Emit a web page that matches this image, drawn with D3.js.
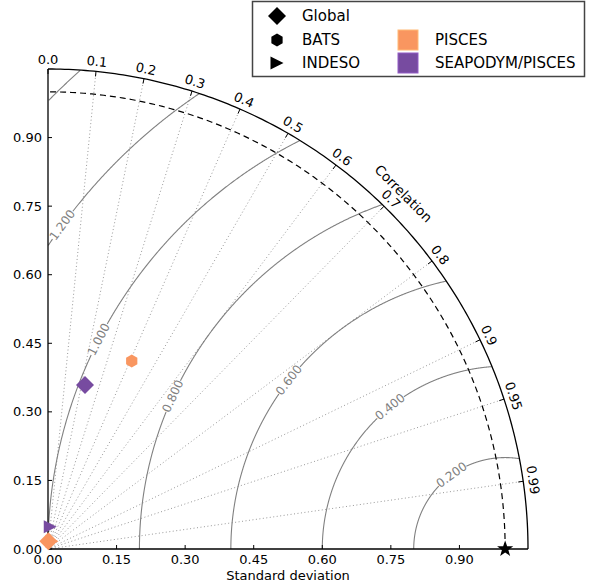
<!DOCTYPE html>
<html><head><meta charset="utf-8">
<script src="https://cdn.jsdelivr.net/npm/d3@7"></script>
<style>body{margin:0;background:#fff}svg{display:block}text{font-family:"DejaVu Sans",sans-serif}</style>
</head><body>
<svg id="c" width="597" height="588"></svg>
<script>
// ---- data ----
const stdTicks = [0, 0.15, 0.30, 0.45, 0.60, 0.75, 0.90];
const corrTicks = [0, 0.1, 0.2, 0.3, 0.4, 0.5, 0.6, 0.7, 0.8, 0.9, 0.95, 0.99];
const rmsLevels = [0.2, 0.4, 0.6, 0.8, 1.0, 1.2, 1.4];
const rmsLabels = ["0.200", "0.400", "0.600", "0.800", "1.000", "1.200", ""];
const regions = ["Global", "BATS", "INDESO"];
const models = ["PISCES", "SEAPODYM/PISCES"];
const piscesStd = [0.017, 0.450, 0.019];
const piscesCorr = [0.05, 0.407, 0.47];
const seapodymStd = [0.368, null, 0.049];
const seapodymCorr = [0.220, null, 0.10];
const refStd = 1.0;
const maxStd = 1.05;

// ---- layout ----
const svg = d3.select("#c");
const ox = 48, oy = 549, R = 480;
const s = d3.scaleLinear().domain([0, maxStd]).range([0, R]);
const px = x => ox + s(x), py = y => oy - s(y);
const colors = {"PISCES": "#f99660", "SEAPODYM/PISCES": "#774ba0"};

// dotted correlation lines
const g = svg.append("g");
corrTicks.filter(c => c > 0).forEach(c => {
  const t = Math.acos(c);
  g.append("line").attr("x1", px(0)).attr("y1", py(0))
    .attr("x2", px(maxStd * Math.cos(t))).attr("y2", py(maxStd * Math.sin(t)))
    .attr("stroke", "#999").attr("stroke-width", 1).attr("stroke-dasharray", "1,2.5");
});

// RMS contours around the reference point
const labelAngle = {0.2: 125.8, 0.4: 129, 0.6: 142, 0.8: 155.3, 1.0: 152.7, 1.2: 143.8};
const line = d3.line().x(d => px(d[0])).y(d => py(d[1]));
rmsLevels.forEach((r, i) => {
  const lab = rmsLabels[i];
  const la = labelAngle[r];
  const gapHalf = lab ? (17 / s(r)) * 180 / Math.PI : 0;
  let seg = [], segs = [];
  for (let a = 0; a <= 180; a += 0.1) {
    const x = refStd + r * Math.cos(a * Math.PI / 180), y = r * Math.sin(a * Math.PI / 180);
    const inside = x >= 0 && y >= 0 && x * x + y * y <= maxStd * maxStd;
    const inGap = lab && Math.abs(a - la) < gapHalf;
    if (inside && !inGap) seg.push([x, y]);
    else { if (seg.length > 1) segs.push(seg); seg = []; }
  }
  if (seg.length > 1) segs.push(seg);
  segs.forEach(sg => g.append("path").attr("d", line(sg)).attr("fill", "none")
    .attr("stroke", "#808080").attr("stroke-width", 1.1));
  if (lab) {
    const x = refStd + r * Math.cos(la * Math.PI / 180), y = r * Math.sin(la * Math.PI / 180);
    g.append("text").attr("transform", `translate(${px(x)},${py(y)}) rotate(${90 - la})`)
      .attr("text-anchor", "middle").attr("dominant-baseline", "central")
      .attr("font-size", 12).attr("fill", "#808080").text(lab);
  }
});

// reference std dashed arc
const arcPts = d3.range(0, 90.01, 0.5).map(a => [refStd * Math.cos(a * Math.PI / 180), refStd * Math.sin(a * Math.PI / 180)]);
g.append("path").attr("d", line(arcPts)).attr("fill", "none").attr("stroke", "#000")
  .attr("stroke-width", 1.2).attr("stroke-dasharray", "6,4");

// outer arc and axes
const outerPts = d3.range(0, 90.01, 0.5).map(a => [maxStd * Math.cos(a * Math.PI / 180), maxStd * Math.sin(a * Math.PI / 180)]);
g.append("path").attr("d", line(outerPts)).attr("fill", "none").attr("stroke", "#000").attr("stroke-width", 1.3);
g.append("line").attr("x1", px(0)).attr("y1", py(0)).attr("x2", px(0)).attr("y2", py(maxStd)).attr("stroke", "#000").attr("stroke-width", 1.3);
g.append("line").attr("x1", px(0)).attr("y1", py(0)).attr("x2", px(maxStd)).attr("y2", py(0)).attr("stroke", "#000").attr("stroke-width", 1.3);

// correlation ticks + labels
corrTicks.forEach(c => {
  const t = Math.acos(c), deg = t * 180 / Math.PI;
  const cx = Math.cos(t), sy = Math.sin(t);
  g.append("line").attr("x1", ox + R * cx).attr("y1", oy - R * sy)
    .attr("x2", ox + (R - 5) * cx).attr("y2", oy - (R - 5) * sy).attr("stroke", "#000");
  g.append("text").attr("transform", `translate(${ox + 490 * cx},${oy - 490 * sy}) rotate(${90 - deg})`)
    .attr("text-anchor", "middle").attr("dominant-baseline", "central")
    .attr("font-size", 13).text(c === 0 ? "0.0" : String(c));
});
g.append("text").attr("transform", `translate(${ox + 503 * Math.cos(Math.PI / 4)},${oy - 503 * Math.sin(Math.PI / 4)}) rotate(45)`)
  .attr("text-anchor", "middle").attr("dominant-baseline", "central").attr("font-size", 13.5).text("Correlation");

// std axes ticks
stdTicks.forEach(v => {
  g.append("line").attr("x1", px(v)).attr("y1", oy).attr("x2", px(v)).attr("y2", oy - 4).attr("stroke", "#000");
  g.append("line").attr("x1", ox).attr("y1", py(v)).attr("x2", ox + 4).attr("y2", py(v)).attr("stroke", "#000");
  g.append("text").attr("x", px(v)).attr("y", oy + 15).attr("text-anchor", "middle").attr("font-size", 13).text(v.toFixed(2));
  g.append("text").attr("x", ox - 6).attr("y", py(v)).attr("text-anchor", "end").attr("dominant-baseline", "central").attr("font-size", 13).text(v.toFixed(2));
});
g.append("text").attr("x", px(maxStd / 2)).attr("y", 580).attr("text-anchor", "middle").attr("font-size", 13).text("Standard deviation");

// marker shapes
const shapes = {
  Global: w => `M0,${-w}L${w},0L0,${w}L${-w},0Z`,
  BATS: w => { const p = d3.range(6).map(k => { const a = (k * 60 - 90) * Math.PI / 180; return [w * Math.cos(a), w * Math.sin(a)]; }); return "M" + p.join("L") + "Z"; },
  INDESO: w => `M${w},0L${-w},${-w}L${-w},${w}Z`
};
const shapeSize = {Global: 9, BATS: 6.5, INDESO: 6.5};
const star = w => { const p = []; for (let k = 0; k < 10; k++) { const a = (k * 36 - 90) * Math.PI / 180, rr = k % 2 ? w * 0.4 : w; p.push([rr * Math.cos(a), rr * Math.sin(a)]); } return "M" + p.join("L") + "Z"; };

// data points
const series = [[models[0], piscesStd, piscesCorr], [models[1], seapodymStd, seapodymCorr]];
series.forEach(([m, sd, cr]) => {
  regions.forEach((reg, i) => {
    if (sd[i] == null) return;
    const x = sd[i] * cr[i], y = sd[i] * Math.sqrt(1 - cr[i] * cr[i]);
    g.append("path").attr("d", shapes[reg](shapeSize[reg])).attr("transform", `translate(${px(x)},${py(y)})`)
      .attr("fill", colors[m]);
  });
});
g.append("path").attr("d", star(8.5)).attr("transform", `translate(${px(refStd)},${py(0)})`).attr("fill", "#000");

// legend
const L = svg.append("g");
L.append("rect").attr("x", 252.5).attr("y", 1.5).attr("width", 332).attr("height", 75)
  .attr("fill", "#fff").attr("stroke", "#444").attr("stroke-width", 1.5);
const rowsY = [16, 40, 63];
regions.forEach((reg, i) => {
  L.append("path").attr("d", shapes[reg](shapeSize[reg])).attr("transform", `translate(277,${rowsY[i]})`).attr("fill", "#000");
  L.append("text").attr("x", 302).attr("y", rowsY[i]).attr("dominant-baseline", "central").attr("font-size", 15).text(reg);
});
models.forEach((m, i) => {
  L.append("rect").attr("x", 398).attr("y", rowsY[i + 1] - 10).attr("width", 20).attr("height", 20)
    .attr("fill", colors[m]).attr("stroke", d3.color(colors[m]).brighter(0.6)).attr("stroke-width", 1);
  L.append("text").attr("x", 435).attr("y", rowsY[i + 1]).attr("dominant-baseline", "central").attr("font-size", 15).text(m);
});
</script>
</body></html>
